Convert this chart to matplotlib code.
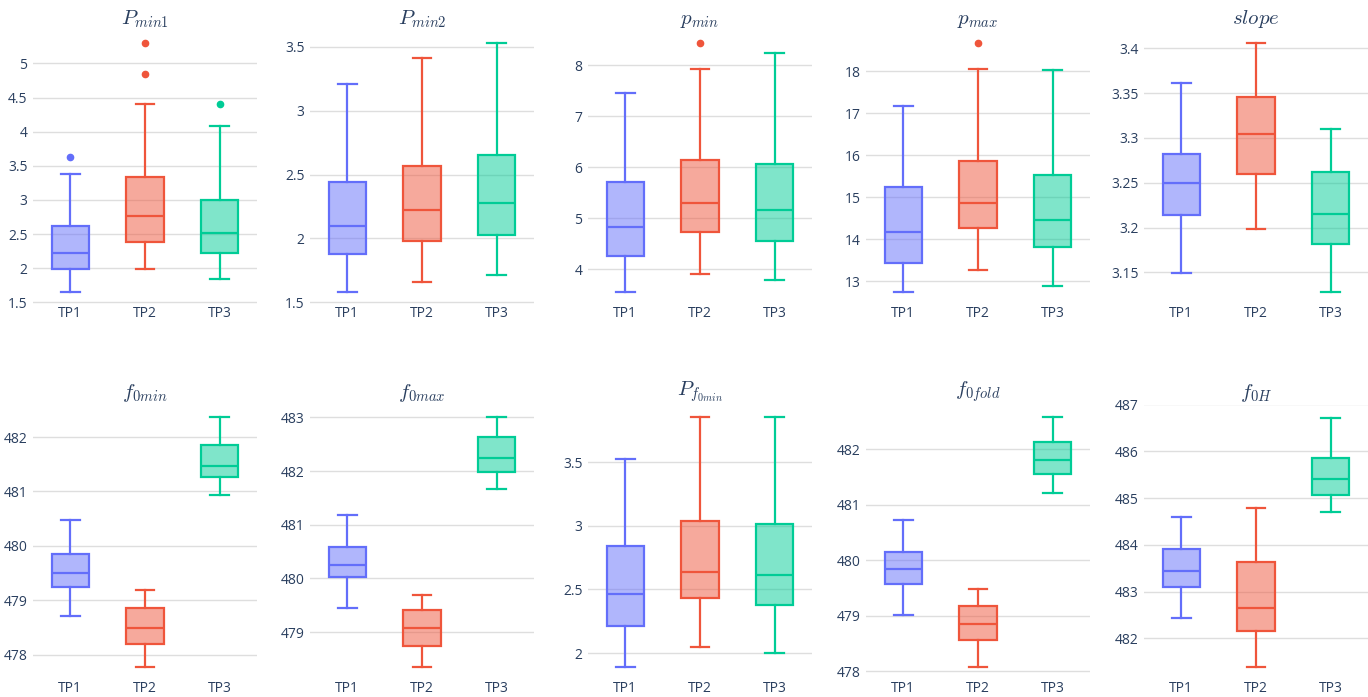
import matplotlib.pyplot as plt
from matplotlib.colors import to_rgba
from matplotlib.ticker import FuncFormatter

groups = ['TP1', 'TP2', 'TP3']
colors = ['#636EFA', '#EF553B', '#00CC96']

titles = ['$P_{min1}$', '$P_{min2}$', '$p_{min}$', '$p_{max}$', '$slope$',
          '$f_{0min}$', '$f_{0max}$', '$P_{f_{0min}}$', '$f_{0fold}$', '$f_{0H}$']

# box statistics per panel, one value per group (TP1, TP2, TP3)
whislo = [[1.65, 1.99, 1.84], [1.58, 1.66, 1.71], [3.55, 3.90, 3.79], [12.74, 13.26, 12.88],
          [3.149, 3.198, 3.128], [478.70, 477.77, 480.93], [479.45, 478.35, 481.67],
          [1.89, 2.05, 2.00], [479.01, 478.08, 481.22], [482.44, 481.39, 484.71]]
q1 = [[1.99, 2.38, 2.22], [1.88, 1.98, 2.03], [4.25, 4.73, 4.56], [13.44, 14.27, 13.81],
      [3.2135, 3.260, 3.182], [479.24, 478.19, 481.26], [480.02, 478.74, 481.99],
      [2.21, 2.43, 2.38], [479.58, 478.57, 481.55], [483.09, 482.17, 485.06]]
med = [[2.22, 2.76, 2.52], [2.10, 2.22, 2.28], [4.82, 5.29, 5.17], [14.17, 14.85, 14.45],
       [3.250, 3.304, 3.215], [479.50, 478.49, 481.47], [480.26, 479.08, 482.24],
       [2.46, 2.64, 2.61], [479.85, 478.86, 481.81], [483.44, 482.66, 485.40]]
q3 = [[2.62, 3.33, 3.00], [2.44, 2.57, 2.65], [5.71, 6.15, 6.07], [15.23, 15.85, 15.53],
      [3.282, 3.346, 3.262], [479.84, 478.85, 481.85], [480.58, 479.41, 482.63],
      [2.84, 3.04, 3.01], [480.15, 479.17, 482.13], [483.91, 483.63, 485.86]]
whishi = [[3.38, 4.40, 4.09], [3.21, 3.41, 3.53], [7.46, 7.93, 8.25], [17.17, 18.06, 18.02],
          [3.361, 3.406, 3.310], [480.48, 479.19, 482.36], [481.18, 479.69, 483.00],
          [3.52, 3.85, 3.85], [480.72, 479.49, 482.57], [484.60, 484.78, 486.72]]
fliers = [[[3.63], [5.30, 4.84], [4.40]], [[], [], []], [[], [8.44], []], [[], [18.67], []],
          [[], [], []], [[], [], []], [[], [], []], [[], [], []], [[], [], []], [[], [], []]]

yticks = [[1.5, 2, 2.5, 3, 3.5, 4, 4.5, 5], [1.5, 2, 2.5, 3, 3.5], [4, 5, 6, 7, 8],
          [13, 14, 15, 16, 17, 18], [3.15, 3.2, 3.25, 3.3, 3.35, 3.4],
          [478, 479, 480, 481, 482], [479, 480, 481, 482, 483], [2, 2.5, 3, 3.5],
          [478, 479, 480, 481, 482], [482, 483, 484, 485, 486, 487]]

W, H = 1368, 697
fig = plt.figure(figsize=(W / 100, H / 100), dpi=100)
textc = '#2a3f5f'
plt.rcParams['mathtext.fontset'] = 'cm'

x_px = [33, 310, 588, 866, 1144]
rows_px = [(30, 305), (404.5, 680)]

for i in range(10):
    r, c = divmod(i, 5)
    top, bot = rows_px[r]
    ax = fig.add_axes([x_px[c] / W, 1 - bot / H, 224 / W, (bot - top) / H])
    stats = []
    for g in range(3):
        stats.append(dict(med=med[i][g], q1=q1[i][g], q3=q3[i][g],
                          whislo=whislo[i][g], whishi=whishi[i][g],
                          fliers=fliers[i][g], label=groups[g]))
    bp = ax.bxp(stats, positions=[0, 1, 2], widths=0.5, capwidths=0.25,
                patch_artist=True, showfliers=True)
    for g in range(3):
        col = colors[g]
        bp['boxes'][g].set_facecolor(to_rgba(col, 0.5))
        bp['boxes'][g].set_edgecolor(col)
        bp['boxes'][g].set_linewidth(1.6)
        bp['medians'][g].set(color=col, linewidth=1.6)
        for k in (2 * g, 2 * g + 1):
            bp['whiskers'][k].set(color=col, linewidth=1.6)
            bp['caps'][k].set(color=col, linewidth=1.6)
        bp['fliers'][g].set(marker='o', markerfacecolor=col, markeredgecolor=col,
                            markersize=4.5, linestyle='none')
    lo = min(whislo[i] + sum(fliers[i], []))
    hi = max(whishi[i] + sum(fliers[i], []))
    pad = (hi - lo) * 0.052
    ax.set_ylim(lo - pad, hi + pad)
    ax.set_xlim(-0.5, 2.5)
    ax.set_yticks(yticks[i])
    ax.yaxis.set_major_formatter(FuncFormatter(lambda v, p: '%g' % v))
    ax.set_xticks([0, 1, 2])
    ax.set_xticklabels(groups)
    for s in ax.spines.values():
        s.set_visible(False)
    ax.tick_params(axis='y', length=0, labelsize=10, labelcolor=textc, pad=4)
    ax.tick_params(axis='x', length=0, labelsize=10, labelcolor=textc, pad=1)
    for lab in ax.get_xticklabels() + ax.get_yticklabels():
        lab.set_family('Open Sans')
    ax.grid(axis='y', color='#dedede', linewidth=1)
    ax.set_axisbelow(True)
    ax.set_title(titles[i], fontsize=15, color=textc, pad=2)

fig.savefig('out.png', dpi=100)
